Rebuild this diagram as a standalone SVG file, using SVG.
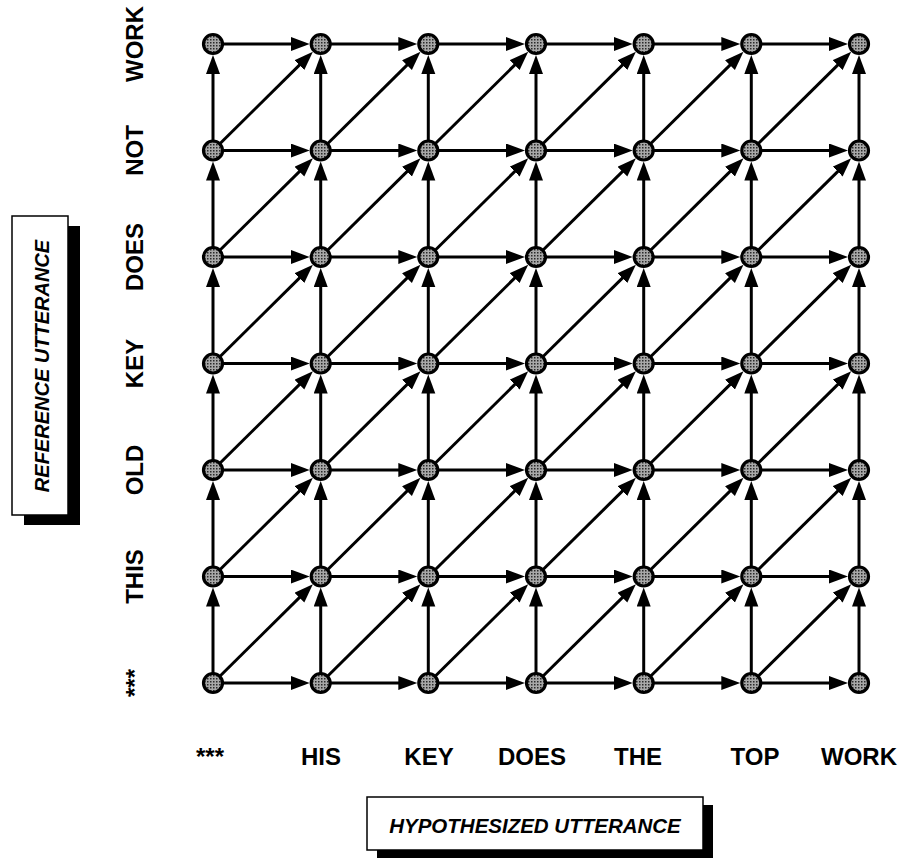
<svg xmlns="http://www.w3.org/2000/svg" width="901" height="861" viewBox="0 0 901 861">
<style>
.e{stroke:#000;stroke-width:3;fill:none;marker-end:url(#ah)}
.n{fill:url(#dots);stroke:#000;stroke-width:3.2}
.lbl{font-family:"Liberation Sans",Arial,sans-serif;font-weight:bold;font-size:24px;fill:#000;text-anchor:middle}
.ttl{font-family:"Liberation Sans",Arial,sans-serif;font-weight:bold;font-style:italic;font-size:20px;fill:#000;text-anchor:middle}
.box{fill:#fff;stroke:#000;stroke-width:1.5}
.sh{fill:#000}
</style>
<defs>
<pattern id="dots" width="3" height="3" patternUnits="userSpaceOnUse"><rect width="3" height="3" fill="#a8a8a8"/><rect width="1.5" height="1.5" fill="#2a2a2a"/></pattern>
<marker id="ah" markerUnits="userSpaceOnUse" markerWidth="22" markerHeight="16" refX="11" refY="7" orient="auto"><path d="M0,0 L19,7 L0,14 z" fill="#000"/></marker>
</defs>
<rect width="901" height="861" fill="#fff"/>
<g id="connectors">
<line class="e" x1="223" y1="683" x2="301.7" y2="683"/><line class="e" x1="330.7" y1="683" x2="409.3" y2="683"/><line class="e" x1="438.3" y1="683" x2="517" y2="683"/><line class="e" x1="546" y1="683" x2="624.7" y2="683"/><line class="e" x1="653.7" y1="683" x2="732.3" y2="683"/><line class="e" x1="761.3" y1="683" x2="840" y2="683"/>
<line class="e" x1="223" y1="576.5" x2="301.7" y2="576.5"/><line class="e" x1="330.7" y1="576.5" x2="409.3" y2="576.5"/><line class="e" x1="438.3" y1="576.5" x2="517" y2="576.5"/><line class="e" x1="546" y1="576.5" x2="624.7" y2="576.5"/><line class="e" x1="653.7" y1="576.5" x2="732.3" y2="576.5"/><line class="e" x1="761.3" y1="576.5" x2="840" y2="576.5"/>
<line class="e" x1="223" y1="470" x2="301.7" y2="470"/><line class="e" x1="330.7" y1="470" x2="409.3" y2="470"/><line class="e" x1="438.3" y1="470" x2="517" y2="470"/><line class="e" x1="546" y1="470" x2="624.7" y2="470"/><line class="e" x1="653.7" y1="470" x2="732.3" y2="470"/><line class="e" x1="761.3" y1="470" x2="840" y2="470"/>
<line class="e" x1="223" y1="363.5" x2="301.7" y2="363.5"/><line class="e" x1="330.7" y1="363.5" x2="409.3" y2="363.5"/><line class="e" x1="438.3" y1="363.5" x2="517" y2="363.5"/><line class="e" x1="546" y1="363.5" x2="624.7" y2="363.5"/><line class="e" x1="653.7" y1="363.5" x2="732.3" y2="363.5"/><line class="e" x1="761.3" y1="363.5" x2="840" y2="363.5"/>
<line class="e" x1="223" y1="257" x2="301.7" y2="257"/><line class="e" x1="330.7" y1="257" x2="409.3" y2="257"/><line class="e" x1="438.3" y1="257" x2="517" y2="257"/><line class="e" x1="546" y1="257" x2="624.7" y2="257"/><line class="e" x1="653.7" y1="257" x2="732.3" y2="257"/><line class="e" x1="761.3" y1="257" x2="840" y2="257"/>
<line class="e" x1="223" y1="150.5" x2="301.7" y2="150.5"/><line class="e" x1="330.7" y1="150.5" x2="409.3" y2="150.5"/><line class="e" x1="438.3" y1="150.5" x2="517" y2="150.5"/><line class="e" x1="546" y1="150.5" x2="624.7" y2="150.5"/><line class="e" x1="653.7" y1="150.5" x2="732.3" y2="150.5"/><line class="e" x1="761.3" y1="150.5" x2="840" y2="150.5"/>
<line class="e" x1="223" y1="44" x2="301.7" y2="44"/><line class="e" x1="330.7" y1="44" x2="409.3" y2="44"/><line class="e" x1="438.3" y1="44" x2="517" y2="44"/><line class="e" x1="546" y1="44" x2="624.7" y2="44"/><line class="e" x1="653.7" y1="44" x2="732.3" y2="44"/><line class="e" x1="761.3" y1="44" x2="840" y2="44"/>
<line class="e" x1="213" y1="673" x2="213" y2="595.5"/><line class="e" x1="213" y1="566.5" x2="213" y2="489"/><line class="e" x1="213" y1="460" x2="213" y2="382.5"/><line class="e" x1="213" y1="353.5" x2="213" y2="276"/><line class="e" x1="213" y1="247" x2="213" y2="169.5"/><line class="e" x1="213" y1="140.5" x2="213" y2="63"/>
<line class="e" x1="320.7" y1="673" x2="320.7" y2="595.5"/><line class="e" x1="320.7" y1="566.5" x2="320.7" y2="489"/><line class="e" x1="320.7" y1="460" x2="320.7" y2="382.5"/><line class="e" x1="320.7" y1="353.5" x2="320.7" y2="276"/><line class="e" x1="320.7" y1="247" x2="320.7" y2="169.5"/><line class="e" x1="320.7" y1="140.5" x2="320.7" y2="63"/>
<line class="e" x1="428.3" y1="673" x2="428.3" y2="595.5"/><line class="e" x1="428.3" y1="566.5" x2="428.3" y2="489"/><line class="e" x1="428.3" y1="460" x2="428.3" y2="382.5"/><line class="e" x1="428.3" y1="353.5" x2="428.3" y2="276"/><line class="e" x1="428.3" y1="247" x2="428.3" y2="169.5"/><line class="e" x1="428.3" y1="140.5" x2="428.3" y2="63"/>
<line class="e" x1="536" y1="673" x2="536" y2="595.5"/><line class="e" x1="536" y1="566.5" x2="536" y2="489"/><line class="e" x1="536" y1="460" x2="536" y2="382.5"/><line class="e" x1="536" y1="353.5" x2="536" y2="276"/><line class="e" x1="536" y1="247" x2="536" y2="169.5"/><line class="e" x1="536" y1="140.5" x2="536" y2="63"/>
<line class="e" x1="643.7" y1="673" x2="643.7" y2="595.5"/><line class="e" x1="643.7" y1="566.5" x2="643.7" y2="489"/><line class="e" x1="643.7" y1="460" x2="643.7" y2="382.5"/><line class="e" x1="643.7" y1="353.5" x2="643.7" y2="276"/><line class="e" x1="643.7" y1="247" x2="643.7" y2="169.5"/><line class="e" x1="643.7" y1="140.5" x2="643.7" y2="63"/>
<line class="e" x1="751.3" y1="673" x2="751.3" y2="595.5"/><line class="e" x1="751.3" y1="566.5" x2="751.3" y2="489"/><line class="e" x1="751.3" y1="460" x2="751.3" y2="382.5"/><line class="e" x1="751.3" y1="353.5" x2="751.3" y2="276"/><line class="e" x1="751.3" y1="247" x2="751.3" y2="169.5"/><line class="e" x1="751.3" y1="140.5" x2="751.3" y2="63"/>
<line class="e" x1="859" y1="673" x2="859" y2="595.5"/><line class="e" x1="859" y1="566.5" x2="859" y2="489"/><line class="e" x1="859" y1="460" x2="859" y2="382.5"/><line class="e" x1="859" y1="353.5" x2="859" y2="276"/><line class="e" x1="859" y1="247" x2="859" y2="169.5"/><line class="e" x1="859" y1="140.5" x2="859" y2="63"/>
<line class="e" x1="220.1" y1="676" x2="307.2" y2="589.9"/><line class="e" x1="327.8" y1="676" x2="414.8" y2="589.9"/><line class="e" x1="435.4" y1="676" x2="522.5" y2="589.9"/><line class="e" x1="543.1" y1="676" x2="630.2" y2="589.9"/><line class="e" x1="650.8" y1="676" x2="737.8" y2="589.9"/><line class="e" x1="758.4" y1="676" x2="845.5" y2="589.9"/>
<line class="e" x1="220.1" y1="569.5" x2="307.2" y2="483.4"/><line class="e" x1="327.8" y1="569.5" x2="414.8" y2="483.4"/><line class="e" x1="435.4" y1="569.5" x2="522.5" y2="483.4"/><line class="e" x1="543.1" y1="569.5" x2="630.2" y2="483.4"/><line class="e" x1="650.8" y1="569.5" x2="737.8" y2="483.4"/><line class="e" x1="758.4" y1="569.5" x2="845.5" y2="483.4"/>
<line class="e" x1="220.1" y1="463" x2="307.2" y2="376.9"/><line class="e" x1="327.8" y1="463" x2="414.8" y2="376.9"/><line class="e" x1="435.4" y1="463" x2="522.5" y2="376.9"/><line class="e" x1="543.1" y1="463" x2="630.2" y2="376.9"/><line class="e" x1="650.8" y1="463" x2="737.8" y2="376.9"/><line class="e" x1="758.4" y1="463" x2="845.5" y2="376.9"/>
<line class="e" x1="220.1" y1="356.5" x2="307.2" y2="270.4"/><line class="e" x1="327.8" y1="356.5" x2="414.8" y2="270.4"/><line class="e" x1="435.4" y1="356.5" x2="522.5" y2="270.4"/><line class="e" x1="543.1" y1="356.5" x2="630.2" y2="270.4"/><line class="e" x1="650.8" y1="356.5" x2="737.8" y2="270.4"/><line class="e" x1="758.4" y1="356.5" x2="845.5" y2="270.4"/>
<line class="e" x1="220.1" y1="250" x2="307.2" y2="163.9"/><line class="e" x1="327.8" y1="250" x2="414.8" y2="163.9"/><line class="e" x1="435.4" y1="250" x2="522.5" y2="163.9"/><line class="e" x1="543.1" y1="250" x2="630.2" y2="163.9"/><line class="e" x1="650.8" y1="250" x2="737.8" y2="163.9"/><line class="e" x1="758.4" y1="250" x2="845.5" y2="163.9"/>
<line class="e" x1="220.1" y1="143.5" x2="307.2" y2="57.4"/><line class="e" x1="327.8" y1="143.5" x2="414.8" y2="57.4"/><line class="e" x1="435.4" y1="143.5" x2="522.5" y2="57.4"/><line class="e" x1="543.1" y1="143.5" x2="630.2" y2="57.4"/><line class="e" x1="650.8" y1="143.5" x2="737.8" y2="57.4"/><line class="e" x1="758.4" y1="143.5" x2="845.5" y2="57.4"/>
</g>
<g id="nodes">
<g id="n-0-0"><circle class="n" cx="213" cy="683" r="9.5"/></g><g id="n-1-0"><circle class="n" cx="320.7" cy="683" r="9.5"/></g><g id="n-2-0"><circle class="n" cx="428.3" cy="683" r="9.5"/></g><g id="n-3-0"><circle class="n" cx="536" cy="683" r="9.5"/></g><g id="n-4-0"><circle class="n" cx="643.7" cy="683" r="9.5"/></g><g id="n-5-0"><circle class="n" cx="751.3" cy="683" r="9.5"/></g><g id="n-6-0"><circle class="n" cx="859" cy="683" r="9.5"/></g>
<g id="n-0-1"><circle class="n" cx="213" cy="576.5" r="9.5"/></g><g id="n-1-1"><circle class="n" cx="320.7" cy="576.5" r="9.5"/></g><g id="n-2-1"><circle class="n" cx="428.3" cy="576.5" r="9.5"/></g><g id="n-3-1"><circle class="n" cx="536" cy="576.5" r="9.5"/></g><g id="n-4-1"><circle class="n" cx="643.7" cy="576.5" r="9.5"/></g><g id="n-5-1"><circle class="n" cx="751.3" cy="576.5" r="9.5"/></g><g id="n-6-1"><circle class="n" cx="859" cy="576.5" r="9.5"/></g>
<g id="n-0-2"><circle class="n" cx="213" cy="470" r="9.5"/></g><g id="n-1-2"><circle class="n" cx="320.7" cy="470" r="9.5"/></g><g id="n-2-2"><circle class="n" cx="428.3" cy="470" r="9.5"/></g><g id="n-3-2"><circle class="n" cx="536" cy="470" r="9.5"/></g><g id="n-4-2"><circle class="n" cx="643.7" cy="470" r="9.5"/></g><g id="n-5-2"><circle class="n" cx="751.3" cy="470" r="9.5"/></g><g id="n-6-2"><circle class="n" cx="859" cy="470" r="9.5"/></g>
<g id="n-0-3"><circle class="n" cx="213" cy="363.5" r="9.5"/></g><g id="n-1-3"><circle class="n" cx="320.7" cy="363.5" r="9.5"/></g><g id="n-2-3"><circle class="n" cx="428.3" cy="363.5" r="9.5"/></g><g id="n-3-3"><circle class="n" cx="536" cy="363.5" r="9.5"/></g><g id="n-4-3"><circle class="n" cx="643.7" cy="363.5" r="9.5"/></g><g id="n-5-3"><circle class="n" cx="751.3" cy="363.5" r="9.5"/></g><g id="n-6-3"><circle class="n" cx="859" cy="363.5" r="9.5"/></g>
<g id="n-0-4"><circle class="n" cx="213" cy="257" r="9.5"/></g><g id="n-1-4"><circle class="n" cx="320.7" cy="257" r="9.5"/></g><g id="n-2-4"><circle class="n" cx="428.3" cy="257" r="9.5"/></g><g id="n-3-4"><circle class="n" cx="536" cy="257" r="9.5"/></g><g id="n-4-4"><circle class="n" cx="643.7" cy="257" r="9.5"/></g><g id="n-5-4"><circle class="n" cx="751.3" cy="257" r="9.5"/></g><g id="n-6-4"><circle class="n" cx="859" cy="257" r="9.5"/></g>
<g id="n-0-5"><circle class="n" cx="213" cy="150.5" r="9.5"/></g><g id="n-1-5"><circle class="n" cx="320.7" cy="150.5" r="9.5"/></g><g id="n-2-5"><circle class="n" cx="428.3" cy="150.5" r="9.5"/></g><g id="n-3-5"><circle class="n" cx="536" cy="150.5" r="9.5"/></g><g id="n-4-5"><circle class="n" cx="643.7" cy="150.5" r="9.5"/></g><g id="n-5-5"><circle class="n" cx="751.3" cy="150.5" r="9.5"/></g><g id="n-6-5"><circle class="n" cx="859" cy="150.5" r="9.5"/></g>
<g id="n-0-6"><circle class="n" cx="213" cy="44" r="9.5"/></g><g id="n-1-6"><circle class="n" cx="320.7" cy="44" r="9.5"/></g><g id="n-2-6"><circle class="n" cx="428.3" cy="44" r="9.5"/></g><g id="n-3-6"><circle class="n" cx="536" cy="44" r="9.5"/></g><g id="n-4-6"><circle class="n" cx="643.7" cy="44" r="9.5"/></g><g id="n-5-6"><circle class="n" cx="751.3" cy="44" r="9.5"/></g><g id="n-6-6"><circle class="n" cx="859" cy="44" r="9.5"/></g>
</g>
<g id="hyp-labels">
<text class="lbl" x="210" y="765">***</text>
<text class="lbl" x="321" y="765">HIS</text>
<text class="lbl" x="429" y="765">KEY</text>
<text class="lbl" x="532" y="765">DOES</text>
<text class="lbl" x="638" y="765">THE</text>
<text class="lbl" x="755" y="765">TOP</text>
<text class="lbl" x="859" y="765">WORK</text>
</g>
<g id="ref-labels">
<text class="lbl" transform="translate(143,683) rotate(-90)">***</text>
<text class="lbl" transform="translate(143,576.5) rotate(-90)">THIS</text>
<text class="lbl" transform="translate(143,470) rotate(-90)">OLD</text>
<text class="lbl" transform="translate(143,363.5) rotate(-90)">KEY</text>
<text class="lbl" transform="translate(143,257) rotate(-90)">DOES</text>
<text class="lbl" transform="translate(143,150.5) rotate(-90)">NOT</text>
<text class="lbl" transform="translate(143,44) rotate(-90)">WORK</text>
</g>
<g id="ref-title">
<rect class="sh" x="24" y="226" width="56" height="299"/>
<rect class="box" x="12" y="216" width="56" height="299"/>
<text class="ttl" transform="translate(49,366) rotate(-90)">REFERENCE UTTERANCE</text>
</g>
<g id="hyp-title">
<rect class="sh" x="377" y="805" width="336" height="53"/>
<rect class="box" x="367" y="797" width="336" height="53"/>
<text class="ttl" style="font-size:20.5px" x="535" y="833">HYPOTHESIZED UTTERANCE</text>
</g>
</svg>
